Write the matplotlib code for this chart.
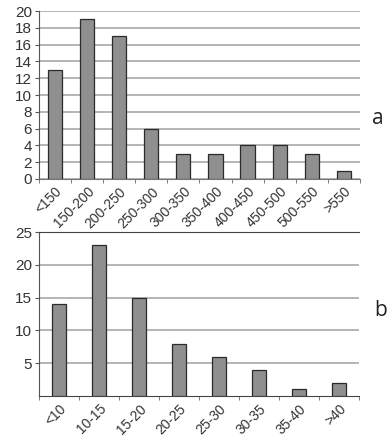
import numpy as np
import matplotlib.pyplot as plt
from matplotlib.ticker import MultipleLocator, FixedLocator

# panel a
cats_a = ["<150", "150-200", "200-250", "250-300", "300-350",
          "350-400", "400-450", "450-500", "500-550", ">550"]
vals_a = [13, 19, 17, 6, 3, 3, 4, 4, 3, 1]

# panel b
cats_b = ["<10", "10-15", "15-20", "20-25", "25-30", "30-35", "35-40", ">40"]
vals_b = [14, 23, 15, 8, 6, 4, 1, 2]

BAR = "#8f8f8f"
EDGE = "#2a2a2a"
TXT = "#333333"
GRID = "#a0a0a0"

plt.rcParams["font.family"] = ["Liberation Sans", "DejaVu Sans"]

fig = plt.figure(figsize=(3.92, 4.37), dpi=100)
ax1 = fig.add_axes([0.0995, 0.5904, 0.8185, 0.3844])
ax2 = fig.add_axes([0.0995, 0.0938, 0.8165, 0.3752])


def style(ax, cats, vals, width, ymax, step):
    x = np.arange(len(cats))
    ax.bar(x, vals, width, color=BAR, edgecolor=EDGE, linewidth=0.9, zorder=3)
    ax.set_xlim(-0.5, len(cats) - 0.5)
    ax.set_ylim(0, ymax)
    ax.yaxis.set_major_locator(MultipleLocator(step))
    ax.yaxis.grid(True, color=GRID, linewidth=1.1, zorder=0)
    ax.set_axisbelow(True)
    ax.set_xticks(x)
    ax.set_xticklabels(cats, rotation=45, ha="right", rotation_mode="anchor",
                       fontsize=10, color=TXT)
    ax.tick_params(axis="x", length=0, pad=4)
    ax.xaxis.set_minor_locator(FixedLocator(np.arange(-0.5, len(cats), 1.0)))
    ax.tick_params(axis="x", which="minor", length=3, color="#666666", direction="out")
    ax.tick_params(axis="y", length=3, color="#555555", labelsize=11,
                   labelcolor=TXT, pad=2)
    for s in ["top", "right"]:
        ax.spines[s].set_visible(False)
    ax.spines["left"].set_color("#555555")
    ax.spines["bottom"].set_color("#777777")


style(ax1, cats_a, vals_a, 0.44, 20, 2)
style(ax2, cats_b, vals_b, 0.34, 25, 5)
ax2.set_yticks([5, 10, 15, 20, 25])
ax2.spines["top"].set_visible(True)
ax2.spines["top"].set_color("#444444")
ax2.spines["bottom"].set_color("#444444")

fig.text(378 / 392, 1 - 118 / 437, "a", fontsize=15, color="#222222",
         ha="center", va="center", family="Open Sans")
fig.text(381 / 392, 1 - 311 / 437, "b", fontsize=15, color="#222222",
         ha="center", va="center", family="Open Sans")

fig.savefig("out.png", dpi=100)
